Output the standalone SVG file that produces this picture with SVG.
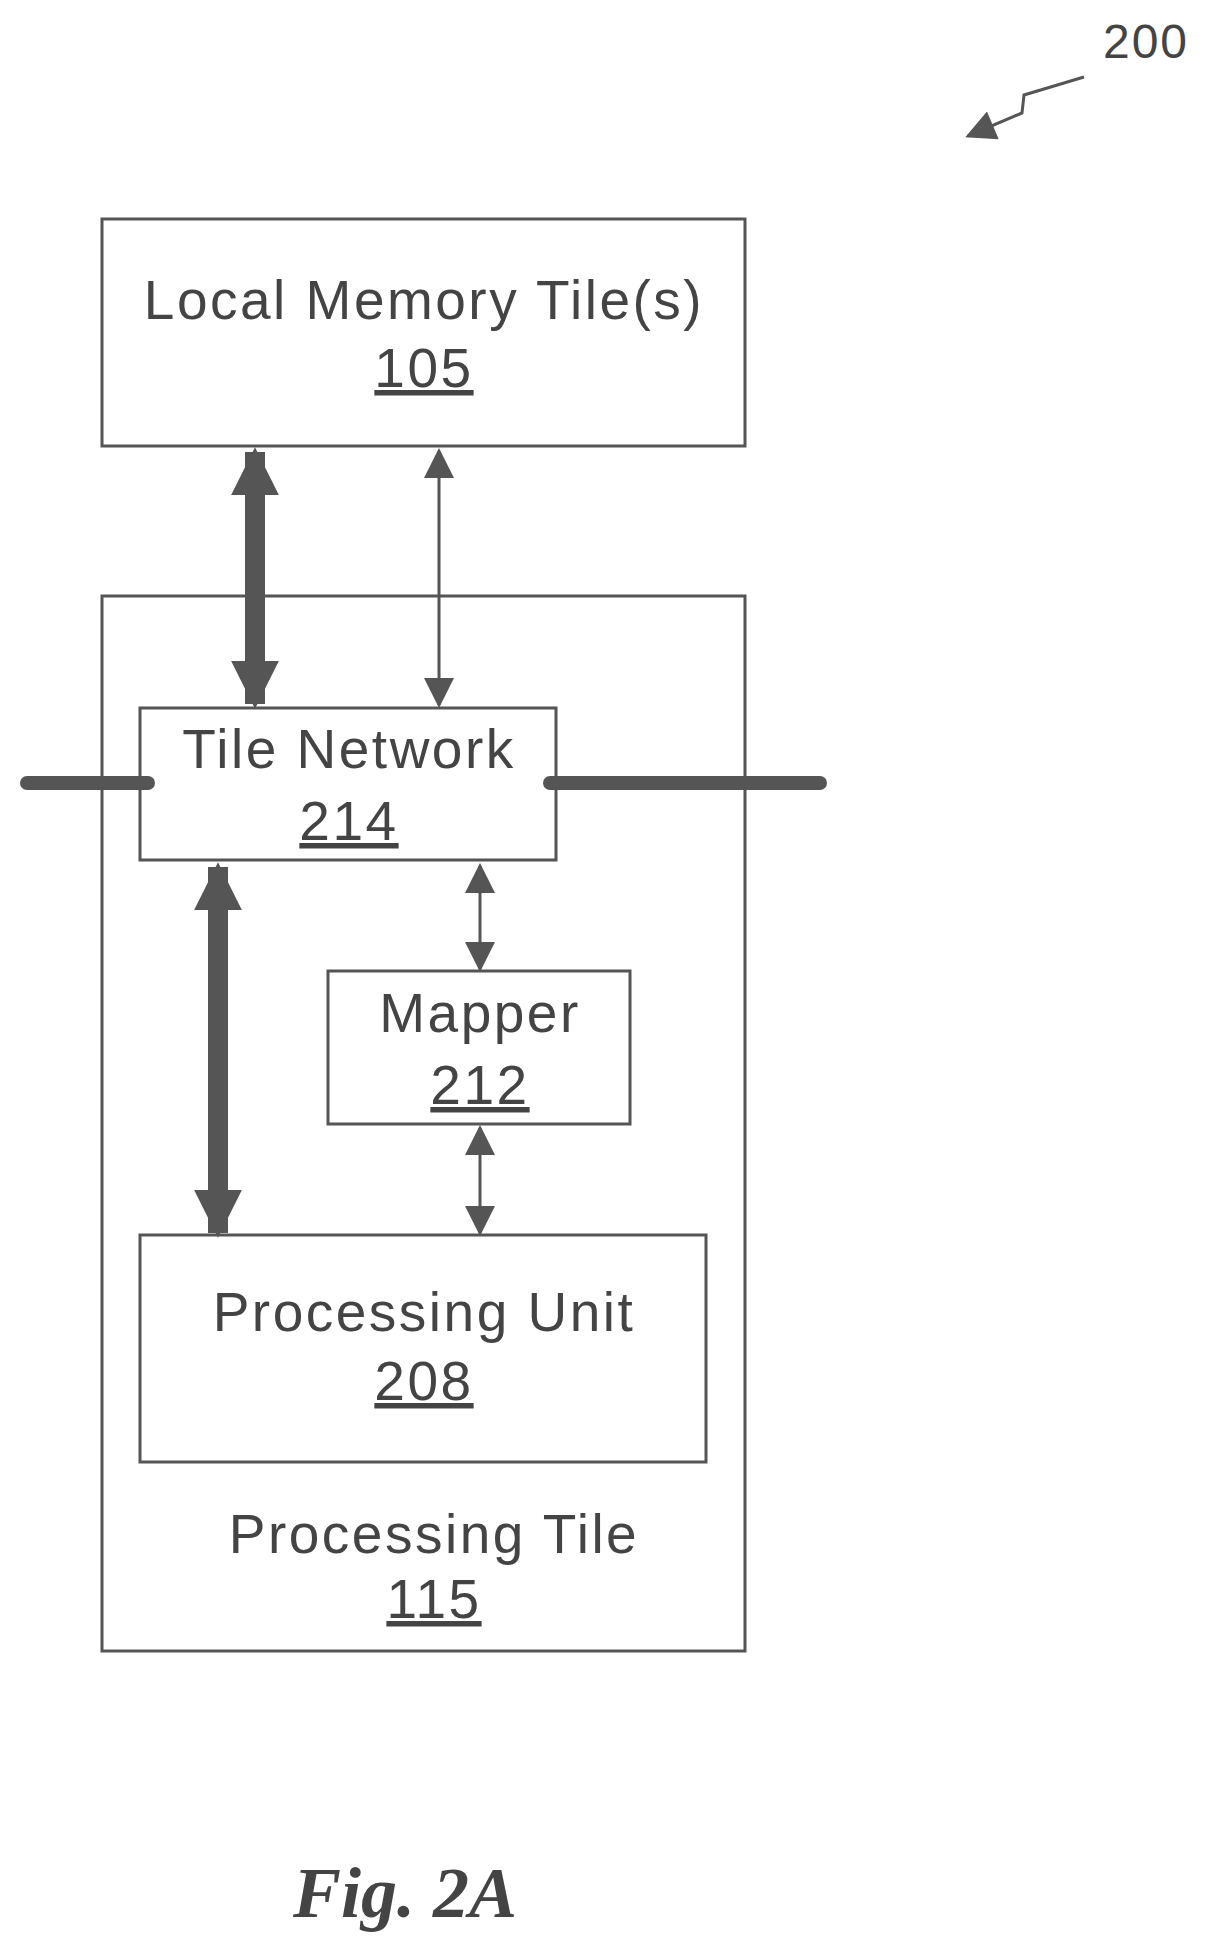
<svg xmlns="http://www.w3.org/2000/svg" width="1209" height="1948" viewBox="0 0 1209 1948">
<style>
.box{fill:none;stroke:#555;stroke-width:3}
.t{font-family:"Liberation Sans",Arial,sans-serif;font-size:55px;letter-spacing:2.5px;fill:#444;text-anchor:middle}
.u{text-decoration:underline}
.thick{stroke:#555;stroke-width:20;fill:none}
.thin{stroke:#555;stroke-width:3;fill:none}
</style>
<defs>
<marker id="hb" viewBox="0 0 10 10" refX="9" refY="5" markerWidth="2.4" markerHeight="2.8" orient="auto-start-reverse" markerUnits="strokeWidth"><path d="M0,0L10,5L0,10z" fill="#555"/></marker>
<marker id="hs" viewBox="0 0 10 10" refX="9" refY="5" markerWidth="11" markerHeight="10" orient="auto-start-reverse" markerUnits="strokeWidth"><path d="M0,0L10,5L0,10z" fill="#555"/></marker>
</defs>
<g id="memory"><rect class="box" x="102" y="219" width="643" height="227"/><text class="t" x="424" y="319">Local Memory Tile(s)</text><text class="t u" x="424" y="387">105</text></g>
<g id="ptile"><rect class="box" x="102" y="596" width="643" height="1055"/><text class="t" x="434" y="1553">Processing Tile</text><text class="t u" x="434" y="1618">115</text></g>
<g id="network"><rect class="box" x="140" y="708" width="416" height="152" fill="#fff"/><text class="t" x="349" y="768">Tile Network</text><text class="t u" x="349" y="840">214</text></g>
<g id="mapper"><rect class="box" x="328" y="971" width="302" height="153"/><text class="t" x="480" y="1032">Mapper</text><text class="t u" x="480" y="1104">212</text></g>
<g id="pu"><rect class="box" x="140" y="1235" width="566" height="227"/><text class="t" x="424" y="1331">Processing Unit</text><text class="t u" x="424" y="1400">208</text></g>
<g id="connectors">
<line class="thick" x1="255" y1="452" x2="255" y2="704" marker-start="url(#hb)" marker-end="url(#hb)"/>
<line class="thin" x1="439" y1="451" x2="439" y2="705" marker-start="url(#hs)" marker-end="url(#hs)"/>
<line class="thick" x1="218" y1="867" x2="218" y2="1233" marker-start="url(#hb)" marker-end="url(#hb)"/>
<line class="thin" x1="480" y1="866" x2="480" y2="969" marker-start="url(#hs)" marker-end="url(#hs)"/>
<line class="thin" x1="480" y1="1128" x2="480" y2="1233" marker-start="url(#hs)" marker-end="url(#hs)"/>
<line x1="27" y1="783" x2="148" y2="783" stroke="#555" stroke-width="14" stroke-linecap="round"/>
<line x1="550" y1="783" x2="820" y2="783" stroke="#555" stroke-width="14" stroke-linecap="round"/>
<polyline class="thin" points="1084,77 1024,95 1022,113 968,136" marker-end="url(#hs)"/>
</g>
<text x="1146" y="58" font-family="Liberation Sans,Arial,sans-serif" font-size="48" letter-spacing="2" fill="#444" text-anchor="middle">200</text>
<text x="405" y="1917" font-family="Liberation Serif,Times New Roman,serif" font-size="72" font-style="italic" font-weight="bold" fill="#444" text-anchor="middle">Fig. 2A</text>
</svg>
